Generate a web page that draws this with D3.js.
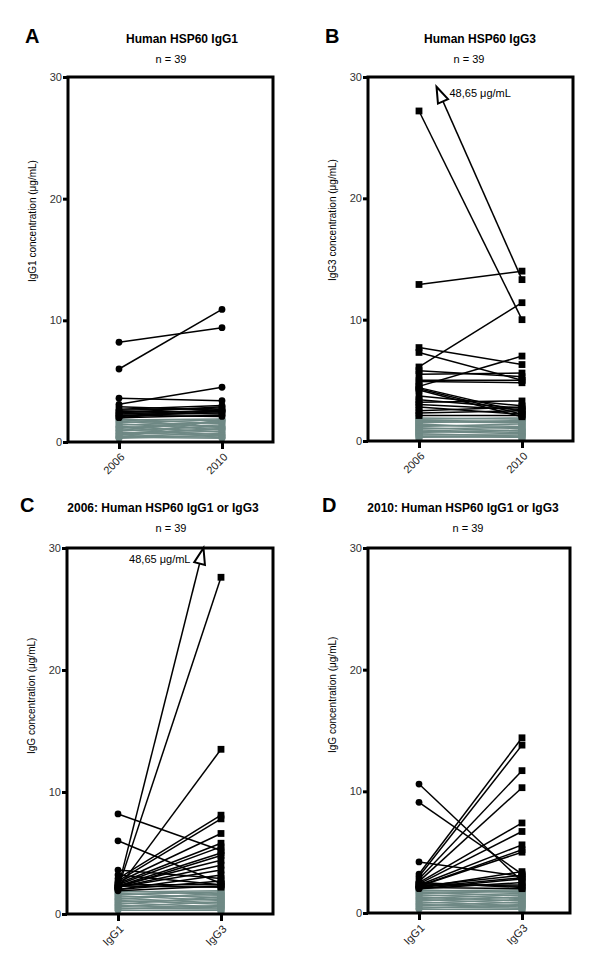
<!DOCTYPE html>
<html><head><meta charset="utf-8">
<script src="https://cdn.jsdelivr.net/npm/d3@7/dist/d3.min.js"></script>
<style>
body{margin:0;background:#fff}
svg{display:block}
text{font-family:"Liberation Sans",Arial,Helvetica,sans-serif}
</style>
</head><body>
<svg id="chart" width="600" height="975"></svg>
<script>
// ---------- data ----------
const yTicks = [0, 10, 20, 30];
const yearCats = ["2006", "2010"];
const isoCats = ["IgG1", "IgG3"];
const cutoff = 2;          // values below this in both ends are drawn grey
const nLabel = "n = 39";

// Panel A: IgG1, 2006 -> 2010
const igg1_2006_A = [8.2, 6.0, 3.6, 3.1, 2.9, 2.7, 2.6, 2.5, 2.4, 2.4, 2.3, 2.2, 2.2, 2.1, 2.0, 2.0,
  1.9, 1.8, 1.7, 1.6, 1.5, 1.4, 1.3, 1.2, 1.1, 1.0, 0.9, 0.8, 0.7, 0.6, 0.5, 0.45, 0.4, 0.35, 0.3, 1.85, 1.25, 0.95, 0.65];
const igg1_2010_A = [9.4, 10.9, 3.4, 4.5, 2.6, 3.0, 2.8, 2.5, 2.9, 2.3, 2.6, 2.4, 2.1, 2.5, 2.2, 2.7,
  1.5, 1.9, 1.2, 1.8, 1.0, 1.6, 0.8, 1.4, 1.7, 0.6, 1.3, 0.5, 1.1, 0.9, 0.4, 0.7, 0.3, 1.85, 0.55, 1.2, 0.35, 1.75, 1.05];

// Panel B: IgG3, 2006 -> 2010 (one value off scale: 48.65)
const igg3_2006_B = [48.65, 27.2, 12.9, 7.7, 7.3, 6.1, 5.8, 5.5, 5.0, 4.9, 4.5, 4.4, 4.3, 4.2, 3.7, 3.4, 3.2, 3.0, 2.8, 2.5, 2.3, 2.1,
  1.9, 1.8, 1.6, 1.5, 1.4, 1.3, 1.2, 1.1, 1.0, 0.9, 0.8, 0.7, 0.6, 0.5, 0.4, 0.3, 1.7];
const igg3_2010_B = [13.3, 10.0, 14.0, 6.3, 5.0, 11.4, 5.3, 5.6, 5.0, 4.8, 7.0, 2.4, 2.2, 2.0, 2.9, 2.7, 3.3, 2.6, 2.2, 2.8, 2.5, 2.1,
  1.8, 1.9, 1.5, 1.7, 1.0, 1.2, 1.4, 0.8, 1.1, 0.7, 0.6, 0.9, 0.4, 0.5, 0.3, 0.35, 1.6];

// Panel C: 2006, IgG1 -> IgG3
const igg1_C = [2.1, 8.2, 6.0, 3.6, 3.2, 2.9, 2.7, 2.6, 2.5, 2.4, 2.3, 2.3, 2.2, 2.2, 2.1, 2.1, 2.0, 2.0, 2.4, 2.2, 2.3, 1.9,
  1.9, 1.8, 1.7, 1.6, 1.5, 1.4, 1.3, 1.2, 1.1, 1.0, 0.9, 0.8, 0.7, 0.6, 0.5, 0.4, 0.3];
const igg3_C = [48.65, 5.2, 2.5, 2.9, 2.4, 8.1, 7.8, 6.6, 5.8, 5.5, 5.0, 4.4, 4.0, 3.6, 13.5, 27.6, 3.2, 2.7, 2.4, 4.8, 2.2, 2.3,
  1.6, 1.9, 1.3, 1.8, 1.1, 1.5, 0.9, 1.7, 0.8, 1.2, 0.6, 1.4, 0.5, 1.0, 0.4, 0.7, 0.3];

// Panel D: 2010, IgG1 -> IgG3
const igg1_D = [10.6, 9.1, 4.2, 3.2, 3.0, 2.8, 2.6, 2.5, 2.4, 2.3, 2.2, 2.2, 2.1, 2.1, 2.0, 2.0, 2.3, 2.4, 2.5, 2.2, 2.1,
  1.9, 1.8, 1.7, 1.6, 1.5, 1.4, 1.3, 1.2, 1.1, 1.0, 0.9, 0.8, 0.7, 0.6, 0.5, 0.4, 0.3, 1.85];
const igg3_D = [2.6, 3.2, 3.0, 14.4, 13.8, 11.7, 10.3, 7.4, 6.7, 5.6, 5.2, 5.0, 3.4, 2.9, 2.8, 2.5, 2.3, 2.2, 2.1, 3.1, 2.0,
  1.7, 1.9, 1.4, 1.8, 1.2, 1.6, 1.0, 1.5, 0.8, 1.3, 0.6, 1.1, 0.5, 0.9, 0.4, 0.7, 0.3, 1.75];

// Off-scale annotation (tip given as fraction between the two categories, and value)
const arrowLabel = "48,65 \u03bcg/mL";

// ---------- layout ----------
const panels = [
  {letter:"A", title:"Human HSP60 IgG1", ylabel:"IgG1 concentration (\u03bcg/mL)", cats:yearCats,
   first:igg1_2006_A, second:igg1_2010_A, shapes:["circle","circle"],
   left:68, top:77, width:205, height:365, titleX:182, nX:171, letterX:25, titleY:43,
   arrow:null},
  {letter:"B", title:"Human HSP60 IgG3", ylabel:"IgG3 concentration (\u03bcg/mL)", cats:yearCats,
   first:igg3_2006_B, second:igg3_2010_B, shapes:["square","square"],
   left:368, top:77, width:205, height:364, titleX:480, nX:469, letterX:325, titleY:43,
   arrow:{tipPos:0.17, tipValue:29.2, labelSide:"right"}},
  {letter:"C", title:"2006: Human HSP60 IgG1 or IgG3", ylabel:"IgG concentration (\u03bcg/mL)", cats:isoCats,
   first:igg1_C, second:igg3_C, shapes:["circle","square"],
   left:67, top:548, width:206, height:366, titleX:163, nX:171, letterX:20, titleY:512,
   arrow:{tipPos:0.83, tipValue:30, labelSide:"left"}},
  {letter:"D", title:"2010: Human HSP60 IgG1 or IgG3", ylabel:"IgG concentration (\u03bcg/mL)", cats:isoCats,
   first:igg1_D, second:igg3_D, shapes:["circle","square"],
   left:368, top:548, width:202, height:365, titleX:463, nX:468, letterX:322, titleY:512,
   arrow:null}
];

const grey = "#6f8985";
const svg = d3.select("#chart");

function drawMarker(sel, shape, cx, cy, color) {
  if (shape === "circle") {
    sel.append("circle").attr("cx", cx).attr("cy", cy).attr("r", 3.4).attr("fill", color);
  } else {
    sel.append("rect").attr("x", cx - 3.4).attr("y", cy - 3.4).attr("width", 6.8).attr("height", 6.8).attr("fill", color);
  }
}

panels.forEach(p => {
  const g = svg.append("g");
  const bottom = p.top + p.height;
  const y = d3.scaleLinear().domain([0, 30]).range([bottom, p.top]);
  const x = d3.scalePoint().domain(p.cats).range([p.left + 51, p.left + 154]);
  const x0 = x(p.cats[0]), x1 = x(p.cats[1]);

  const subj = p.first.map((v, i) => ({a: v, b: p.second[i]}));
  const black = d => Math.max(d.a, d.b) >= cutoff;
  const onScale = d => d.a <= 30 && d.b <= 30;

  // titles
  g.append("text").attr("x", p.letterX).attr("y", p.titleY).attr("font-size", 20).attr("font-weight", "bold").text(p.letter);
  g.append("text").attr("x", p.titleX).attr("y", p.titleY).attr("text-anchor", "middle")
    .attr("font-size", 12).attr("font-weight", "bold").text(p.title);
  g.append("text").attr("x", p.nX).attr("y", p.titleY + 20).attr("text-anchor", "middle")
    .attr("font-size", 11).text(nLabel);

  // y label
  g.append("text")
    .attr("transform", `translate(${p.left - 32},${bottom - 160}) rotate(-90)`)
    .attr("font-size", 10).attr("text-anchor", "start").text(p.ylabel);

  // lines: grey first, then black
  const order = [subj.filter(d => !black(d)), subj.filter(black)];
  order.forEach((set, k) => {
    const color = k === 0 ? grey : "#000";
    const lg = g.append("g");
    set.filter(onScale).forEach(d => {
      lg.append("line").attr("x1", x0).attr("y1", y(d.a)).attr("x2", x1).attr("y2", y(d.b))
        .attr("stroke", color).attr("stroke-width", 1.5);
    });
    set.forEach(d => {
      if (d.a <= 30) drawMarker(lg, p.shapes[0], x0, y(d.a), color);
      if (d.b <= 30) drawMarker(lg, p.shapes[1], x1, y(d.b), color);
    });
  });

  // arrow for off-scale value
  if (p.arrow) {
    const d = subj.find(s => !onScale(s));
    const fromX = d.a <= 30 ? x0 : x1;
    const fromY = d.a <= 30 ? y(d.a) : y(d.b);
    const tx = x0 + p.arrow.tipPos * (x1 - x0), ty = y(p.arrow.tipValue);
    const dx = tx - fromX, dy = ty - fromY, L = Math.hypot(dx, dy);
    const ux = dx / L, uy = dy / L;
    const hl = 16, hw = 5.5;
    const bx = tx - ux * hl, by = ty - uy * hl;
    g.append("line").attr("x1", fromX).attr("y1", fromY).attr("x2", bx).attr("y2", by)
      .attr("stroke", "#000").attr("stroke-width", 1.5);
    g.append("path")
      .attr("d", `M${tx},${ty}L${bx - uy * hw},${by + ux * hw}L${bx + uy * hw},${by - ux * hw}Z`)
      .attr("fill", "#fff").attr("stroke", "#000").attr("stroke-width", 2).attr("stroke-linejoin", "miter");
    if (p.arrow.labelSide === "right") {
      g.append("text").attr("x", tx + 13).attr("y", ty + 10).attr("font-size", 11).text(arrowLabel);
    } else {
      g.append("text").attr("x", tx - 13).attr("y", ty + 15).attr("font-size", 11).attr("text-anchor", "end").text(arrowLabel);
    }
  }

  // frame
  g.append("rect").attr("x", p.left).attr("y", p.top).attr("width", p.width).attr("height", p.height)
    .attr("fill", "none").attr("stroke", "#000").attr("stroke-width", 3);

  // y axis
  const ya = g.append("g").attr("transform", `translate(${p.left},0)`)
    .call(d3.axisLeft(y).tickValues(yTicks).tickSize(5).tickPadding(1).tickFormat(d3.format("d")));
  ya.select(".domain").remove();
  ya.selectAll(".tick line").attr("stroke-width", 3);
  ya.selectAll(".tick text").attr("font-size", 11).attr("fill", "#333")
    .attr("font-family", '"Liberation Sans",Arial,sans-serif');

  // x axis
  const xa = g.append("g").attr("transform", `translate(0,${bottom})`)
    .call(d3.axisBottom(x).tickSize(7).tickPadding(0));
  xa.select(".domain").remove();
  xa.selectAll(".tick line").attr("stroke-width", 3);
  xa.selectAll(".tick text").attr("font-size", 11).attr("fill", "#222")
    .attr("font-family", '"Liberation Sans",Arial,sans-serif')
    .attr("x", 0).attr("y", 0).attr("dy", "0.35em")
    .attr("text-anchor", "end")
    .attr("transform", "translate(3,13) rotate(-45)");
});
</script>
</body></html>
